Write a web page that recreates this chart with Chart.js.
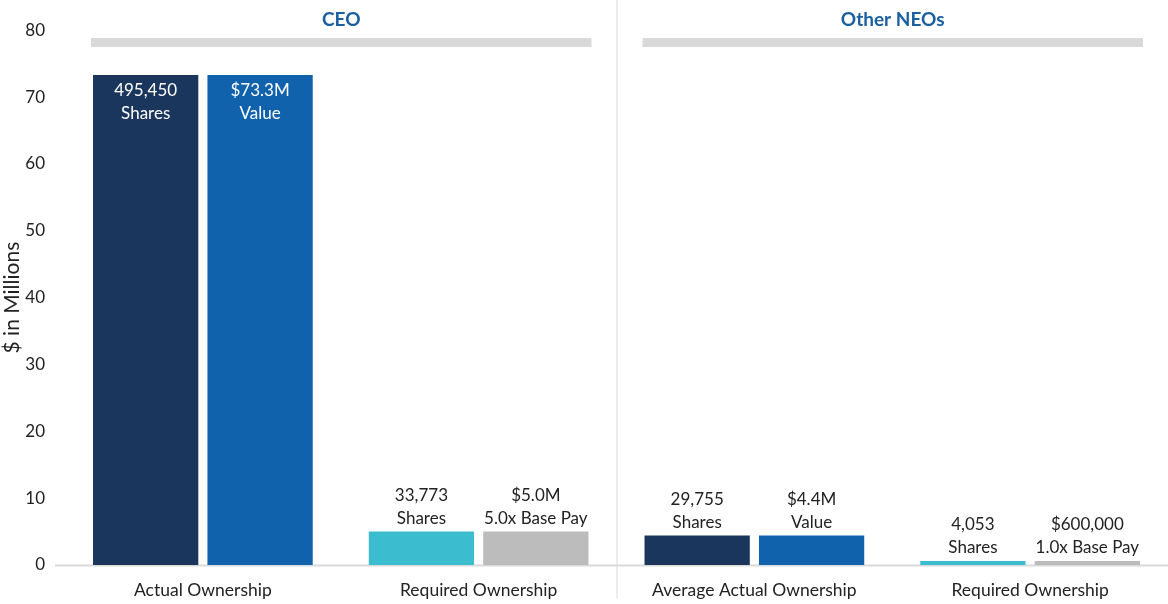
<!DOCTYPE html>
<html>
<head>
<meta charset="utf-8">
<script src="https://cdn.jsdelivr.net/npm/chart.js@4.4.1/dist/chart.umd.min.js"></script>
<style>
  html,body{margin:0;padding:0;background:#fff;}
  #wrap{width:1168px;height:604px;position:relative;}
</style>
</head>
<body>
<div id="wrap"><canvas id="chart"></canvas></div>
<script>
// categories and values ($ in millions)
const categories = ["Actual Ownership", "Required Ownership", "Average Actual Ownership", "Required Ownership"];
const sharesValues = [73.3, 5.0, 4.4, 0.6];
const dollarValues = [73.3, 5.0, 4.4, 0.6];
const sharesLabels = [["495,450","Shares"], ["33,773","Shares"], ["29,755","Shares"], ["4,053","Shares"]];
const dollarLabels = [["$73.3M","Value"], ["$5.0M","5.0x Base Pay"], ["$4.4M","Value"], ["$600,000","1.0x Base Pay"]];
const groups = [
    { name: "CEO", from: 0, to: 1 },
    { name: "Other NEOs", from: 2, to: 3 }
];
const yTicks = [0, 10, 20, 30, 40, 50, 60, 70, 80];

const FONT = "Lato, 'Open Sans', sans-serif";
const leftColors = ["#1b365d", "#3bbccf", "#1b365d", "#3bbccf"];
const rightColors = ["#1062ad", "#bcbcbd", "#1062ad", "#bcbcbd"];

const decorPlugin = {
    id: "decor",
    beforeDatasetsDraw(chart){
        const ctx = chart.ctx;
        const x = chart.scales.x, area = chart.chartArea;
        ctx.save();
        // separator between the groups
        const sep = (x.getPixelForValue(1) + x.getPixelForValue(2)) / 2;
        ctx.strokeStyle = "#d9d9d9";
        ctx.lineWidth = 1;
        ctx.beginPath();
        ctx.moveTo(sep + 0.5, 0);
        ctx.lineTo(sep + 0.5, 598);
        ctx.stroke();
        // x axis line
        ctx.beginPath();
        ctx.moveTo(55, area.bottom + 0.5);
        ctx.lineTo(chart.width, area.bottom + 0.5);
        ctx.lineWidth = 2;
        ctx.stroke();
        ctx.restore();
    },
    afterDatasetsDraw(chart){
        const ctx = chart.ctx;
        const m0 = chart.getDatasetMeta(0), m1 = chart.getDatasetMeta(1);
        ctx.save();
        // group headers
        groups.forEach(g=>{
            const b0 = m0.data[g.from], b1 = m1.data[g.to];
            const l = b0.x - b0.width/2 - 2, r = b1.x + b1.width/2 + 3;
            ctx.fillStyle = "#d9d9d9";
            ctx.fillRect(l, 38, r - l, 9);
            ctx.fillStyle = "#1a5fa0";
            ctx.font = "bold 19px " + FONT;
            ctx.textAlign = "center";
            ctx.textBaseline = "middle";
            ctx.fillText(g.name, (l + r)/2, 20);
        });
        // bar labels
        ctx.font = "17px " + FONT;
        ctx.textAlign = "center";
        ctx.textBaseline = "middle";
        [[m0, sharesLabels], [m1, dollarLabels]].forEach(([meta, labels])=>{
            meta.data.forEach((bar, i)=>{
                const lines = labels[i];
                const inside = chart.data.datasets[meta.index].data[i] > 40;
                if(inside){
                    ctx.fillStyle = "#ffffff";
                    ctx.fillText(lines[0], bar.x, bar.y + 16);
                    ctx.fillText(lines[1], bar.x, bar.y + 39);
                } else {
                    ctx.fillStyle = "#222222";
                    ctx.fillText(lines[1], bar.x, bar.y - 13);
                    ctx.fillText(lines[0], bar.x, bar.y - 36);
                }
            });
        });
        ctx.restore();
    }
};

new Chart(document.getElementById("chart"), {
    type: "bar",
    data: {
        labels: categories,
        datasets: [
            { label: "Shares", data: sharesValues, backgroundColor: leftColors, categoryPercentage: 0.83, barPercentage: 0.92 },
            { label: "Value", data: dollarValues, backgroundColor: rightColors, categoryPercentage: 0.83, barPercentage: 0.92 }
        ]
    },
    options: {
        responsive: true,
        maintainAspectRatio: false,
        animation: false,
        layout: { padding: { top: 30, right: 0, left: 0, bottom: 0 } },
        plugins: { legend: { display: false }, tooltip: { enabled: false } },
        scales: {
            x: {
                grid: { display: false },
                border: { display: false },
                ticks: { color: "#222", font: { family: FONT, size: 17.5 }, padding: 7 },
                afterFit(s){ s.height = 39; }
            },
            y: {
                min: 0, max: 80,
                afterBuildTicks(s){ s.ticks = yTicks.map(v=>({ value: v })); },
                grid: { display: false, drawTicks: false },
                border: { display: false },
                ticks: { color: "#222", font: { family: FONT, size: 17 }, padding: 20 },
                title: { display: true, text: "$ in Millions", color: "#222", font: { family: FONT, size: 21 }, padding: { top: 0, bottom: 0 } },
                afterFit(s){ s.width = 65; }
            }
        }
    },
    plugins: [decorPlugin]
});
</script>
</body>
</html>
